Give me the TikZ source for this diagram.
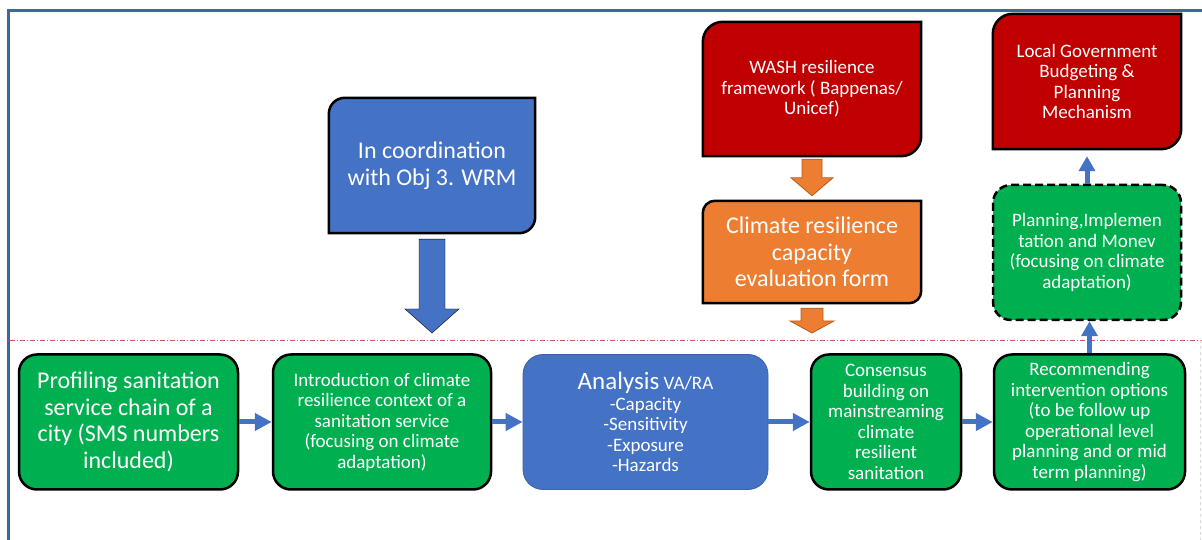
\documentclass[tikz,border=0pt]{standalone}
\usepackage{fontspec}
\setmainfont{Carlito}
\usepackage{tikz}
\usetikzlibrary{arrows.meta,calc,backgrounds}

\definecolor{boxgreen}{HTML}{00B050}
\definecolor{boxblue}{HTML}{4472C4}
\definecolor{boxred}{HTML}{C00000}
\definecolor{boxorange}{HTML}{ED7D31}
\definecolor{orangeline}{HTML}{B35E22}
\definecolor{framecol}{HTML}{41669A}
\definecolor{splitred}{HTML}{C85A5A}

\newcommand{\diagbox}[3]{%
  \begin{pgfonlayer}{background}
    \draw[#2] (#1.north east) -- ([yshift=#3]#1.south east)
      arc[start angle=0,end angle=-90,radius=#3] -- (#1.south west)
      -- ([yshift=-#3]#1.north west)
      arc[start angle=180,end angle=90,radius=#3] -- cycle;
  \end{pgfonlayer}}
\newcommand{\blockarrow}[6]{%
  \draw[#1] let \p1=(#2), \p2=(#3) in
    (\x1-#4,\y1) -- (\x1-#4,\y2+#6) -- (\x1-#5,\y2+#6) -- (\x1,\y2)
    -- (\x1+#5,\y2+#6) -- (\x1+#4,\y2+#6) -- (\x1+#4,\y1) -- cycle;}

\tikzset{
  small/.style={font=\fontsize{19}{20.5}\selectfont},
  big/.style={font=\fontsize{24}{26.5}\selectfont},
  txt/.style={text=white, align=center, inner sep=0pt},
  greenbox/.style={txt, fill=boxgreen, draw=black, line width=2.5pt,
    rounded corners=18pt, minimum height=135pt},
  dashbox/.style={greenbox, dash pattern=on 8pt off 4pt},
  bluebox/.style={txt, fill=boxblue, draw=boxblue!85!black, line width=0.8pt,
    rounded corners=20pt, minimum height=135pt},
  diagshape/.style={draw=black, line width=2.5pt},
  flow/.style={draw=boxblue, line width=5pt, -{Triangle[length=17pt,width=17pt]}},
  upflow/.style={draw=boxblue, line width=5pt, -{Triangle[length=15pt,width=16pt]}},
  orangearrow/.style={fill=boxorange, draw=orangeline, line width=0.8pt}
}

\begin{document}
\begin{tikzpicture}[x=1pt,y=1pt]
  \useasboundingbox (0,0) rectangle (1202,540);
  \draw[framecol, line width=3pt] (8,0) -- (8,529) -- (1202,529);
  \draw[splitred, line width=0.8pt, dash pattern=on 5pt off 2pt on 1pt off 2pt]
    (9.5,200) -- (1202,200);
  \draw[black!15, dashed, line width=0.6pt] (1200,200) -- (1200,0);

  \node[txt, big, minimum width=206pt, minimum height=135pt] (wrm) at (432,374.5)
    {In coordination\\with Obj 3. WRM};
  \node[txt, small, minimum width=218pt, minimum height=134pt] (wash) at (812,451)
    {WASH resilience\\framework ( Bappenas/\\Unicef)};
  \node[txt, big, minimum width=218pt, minimum height=102pt] (clim) at (812,288)
    {Climate resilience\\capacity\\evaluation form};
  \node[txt, small, minimum width=188pt, minimum height=135pt] (lgov) at (1087,458.5)
    {Local Government\\Budgeting \&\\Planning\\Mechanism};
  \node[dashbox, small, minimum width=188pt] (plan) at (1087,287.5)
    {Planning,Implemen\\tation and Monev\\(focusing on climate\\adaptation)};

  \diagbox{wrm}{diagshape, fill=boxblue}{16pt}
  \diagbox{wash}{diagshape, fill=boxred}{20pt}
  \diagbox{clim}{diagshape, fill=boxorange}{12pt}
  \diagbox{lgov}{diagshape, fill=boxred}{20pt}

  \node[greenbox, big, minimum width=219pt] (prof) at (128.5,118)
    {Profiling sanitation\\service chain of a\\city (SMS numbers\\included)};
  \node[greenbox, small, minimum width=218pt] (intro) at (382,118)
    {Introduction of climate\\resilience context of a\\sanitation service\\(focusing on climate\\adaptation)};
  \node[bluebox, small, minimum width=245pt] (anal) at (645.5,118)
    {{\fontsize{25}{26}\selectfont Analysis} VA/RA\\-Capacity\\-Sensitivity\\-Exposure\\-Hazards};
  \node[greenbox, small, minimum width=150pt] (cons) at (886,118)
    {Consensus\\building on\\mainstreaming\\climate\\resilient\\sanitation};
  \node[greenbox, small, minimum width=191pt] (reco) at (1089.5,118)
    {Recommending\\intervention options\\(to be follow up\\operational level\\planning and or mid\\term planning)};

  \coordinate (wrmtip) at (432,207);
  \coordinate (climtip) at (812,207);

  \blockarrow{fill=boxblue}{[yshift=-6pt]wrm.south}{wrmtip}{13pt}{27pt}{24pt}
  \blockarrow{orangearrow}{[yshift=-3pt]wash.south}{[yshift=5pt]clim.north}{10pt}{21pt}{18pt}
  \blockarrow{orangearrow}{[yshift=-5pt]clim.south}{climtip}{11pt}{22pt}{12pt}

  \draw[flow] (prof) -- (intro);
  \draw[flow] (intro) -- (anal);
  \draw[flow] (anal) -- (cons);
  \draw[flow] (cons) -- (reco);
  \draw[upflow] (reco.north) -- (reco.north |- plan.south);
  \draw[upflow, shorten >=7pt] (plan) -- (lgov);
\end{tikzpicture}
\end{document}
